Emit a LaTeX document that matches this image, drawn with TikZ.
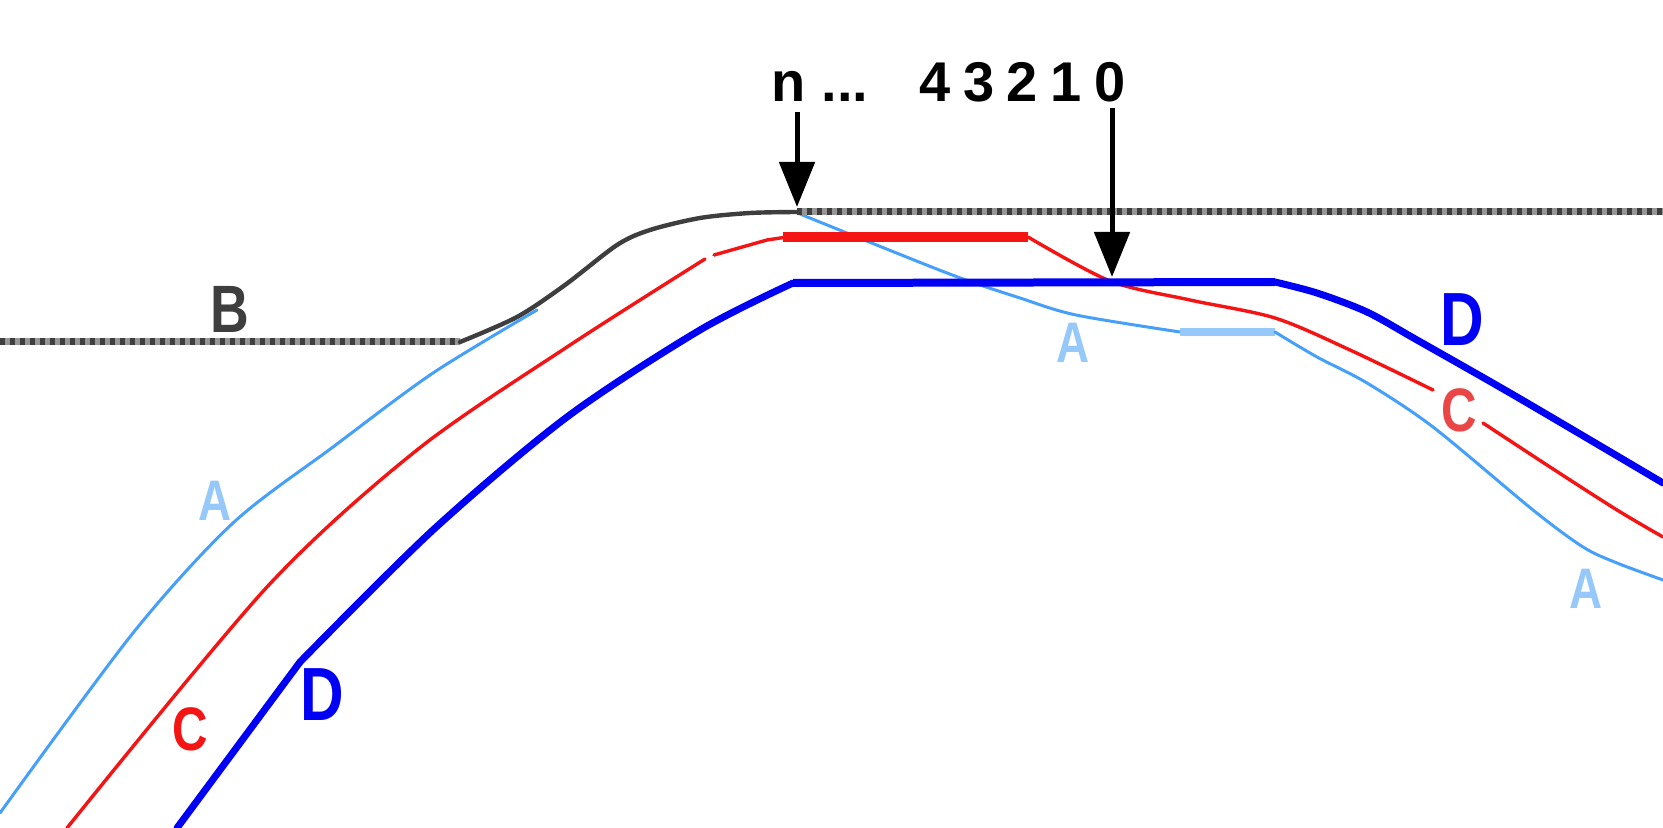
\documentclass[tikz,border=0pt]{standalone}
\usepackage{fontspec}
\newfontfamily\lblfont{Liberation Sans}[FakeStretch=0.8]
\newfontfamily\numfont{Liberation Sans}
\usetikzlibrary{arrows.meta,calc}
\definecolor{lineA}{RGB}{70,160,250}
\definecolor{lightA}{RGB}{150,200,250}
\definecolor{lineC}{RGB}{245,20,20}
\definecolor{softC}{RGB}{235,70,70}
\definecolor{lineD}{RGB}{0,0,245}
\definecolor{lineB}{RGB}{62,62,62}
\definecolor{dotB}{RGB}{150,150,150}
\tikzset{
    lbl/.style    = {inner sep=0pt, font=\lblfont\bfseries\fontsize{#1}{#1}\selectfont},
    digit/.style  = {inner sep=0pt, anchor=base,
                     font=\numfont\bfseries\fontsize{28pt}{28pt}\selectfont},
    ptr/.style    = {draw, line width=2.5pt, -{Triangle[width=17.5pt, length=22.5pt]}},
    trackA/.style = {draw=lineA, line width=1.5pt, line cap=round},
    trackC/.style = {draw=lineC, line width=1.7pt, line cap=round},
    trackD/.style = {draw=lineD, line width=3.5pt, line cap=round},
    dotline/.style = {draw=dotB, line width=3.5pt,
                      postaction={draw=lineB, dash pattern=on 2.5pt off 2.5pt}},
    riseB/.style  = {draw=lineB, line width=2.2pt, line cap=round}
}

\begin{document}
\begin{tikzpicture}[x=0.5pt, y=-0.5pt]
  \fill [white] (0,0) rectangle (1663,828);
  \useasboundingbox (0,0) rectangle (1663,828);
  \clip (0,0) rectangle (1663,828);

  % counters above the track
  \node [digit] (n) at (789,102) {n};
  \node [digit] (ndots) at (845,102) {...};
  \foreach \d [count=\i] in {4,3,2,1,0}
    \node [digit] (d\d) at ({935+43.75*(\i-1)},102) {\d};

  \coordinate (tipn) at (797,207);
  \coordinate (tip0) at (1112,277);

  % A
  \path [trackA] plot [smooth, tension=0.5] coordinates {(0,813) (133,633)
    (233,523) (333,447) (433,373) (537,310)};
  \path [trackA] plot [smooth, tension=0.5] coordinates {(800,214) (947,273)
    (1020,298) (1076,315) (1180,332)};
  \draw [lightA, line width=4pt] (1180,332) -- (1275,332);
  \path [trackA] plot [smooth, tension=0.5] coordinates {(1275,332) (1317,357)
    (1367,383) (1433,427) (1533,510) (1583,547) (1617,563) (1663,580)};

  % C
  \path [trackC] plot [smooth, tension=0.5] coordinates {(67,828) (267,587)
    (417,450) (567,347) (705,259)};
  \path [trackC] (714,255) -- (767,240) -- (787,237);
  \draw [lineC, line width=5pt] (783,237) -- (1028,237);
  \path [trackC] plot [smooth, tension=0.5] coordinates {(1028,237) (1110,281)
    (1190,300) (1275,318) (1350,350) (1433,390)};
  \path [trackC] plot [smooth, tension=0.5] coordinates {(1483,423) (1550,467)
    (1617,510) (1663,537)};

  % D
  \path [trackD] (177,828) -- (300,662);
  \path [trackD] plot [smooth, tension=0.5] coordinates {(300,662) (433,530)
    (567,417) (700,330) (793,283)};
  \draw [lineD, line width=4pt] (793,283) -- (1275,282);
  \path [trackD] plot [smooth, tension=0.5] coordinates {(1275,282) (1317,293)
    (1367,312) (1417,340) (1517,397) (1663,483)};

  % B
  \path [dotline] (0,342) -- (460,342);
  \path [riseB] plot [smooth, tension=0.5] coordinates {(460,342) (517,317)
    (565,285) (617,245) (650,230) (700,218) (750,213) (797,212)};
  \path [dotline] (797,212) -- (1663,212);

  \node [lbl=33.5pt, text=lineB] (labB) at (230,309) {B};
  \node [lbl=28.6pt, text=lightA] (labAl) at (215,501) {A};
  \node [lbl=30.7pt, text=lineC] (labCl) at (190,729) {C};
  \node [lbl=37.7pt, text=lineD] (labDl) at (322,695) {D};
  \node [lbl=28.6pt, text=lightA] (labAm) at (1073,343) {A};
  \node [lbl=37.7pt, text=lineD] (labDr) at (1462,320) {D};
  \node [lbl=30.7pt, text=softC] (labCr) at (1459,410) {C};
  \node [lbl=28.6pt, text=lightA] (labAr) at (1586,589) {A};

  \path [ptr, shorten <=5pt] (n.south -| tipn) -- (tipn);
  \path [ptr, shorten <=2.5pt] (d0.south -| tip0) -- (tip0);
\end{tikzpicture}
\end{document}
